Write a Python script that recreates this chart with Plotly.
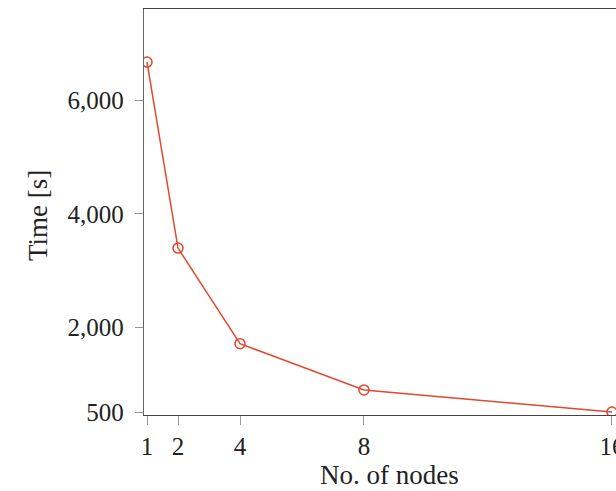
import plotly.graph_objects as go

nodes = [1, 2, 4, 8, 16]
times = [6680, 3395, 1707, 890, 500]
y_tickvals = [500, 2000, 4000, 6000]
y_ticktext = ["500", "2,000", "4,000", "6,000"]
x_tickvals = [1, 2, 4, 8, 16]

FONT = "Liberation Serif"
TICK = 25
TITLE = 27
fig = go.Figure()
fig.add_trace(go.Scatter(
    x=nodes, y=times, mode="lines+markers",
    line=dict(color="#E4472F", width=1.5),
    marker=dict(symbol="circle-open", size=10, color="#E4472F", line=dict(width=1.5)),
    cliponaxis=True, showlegend=False,
))
fig.update_layout(
    width=616, height=491,
    margin=dict(l=144, r=0, t=9, b=76, autoexpand=False),
    paper_bgcolor="white", plot_bgcolor="white",
    font=dict(family=FONT, size=TICK, color="#222"),
    xaxis=dict(range=[0.903, 16.13], tickvals=x_tickvals, ticktext=[str(v) for v in x_tickvals],
               automargin=False,
               showgrid=False, zeroline=False, showline=True, linecolor="#444", linewidth=1.3,
               mirror=True, ticks="outside", ticklen=9, tickcolor="#999", tickwidth=1.3,
               ticklabeloverflow="allow", ticklabelstandoff=0,
               tickfont=dict(family=FONT, size=TICK, color="#222")),
    yaxis=dict(range=[447, 7618], tickvals=y_tickvals, ticktext=y_ticktext,
               automargin=False,
               showgrid=False, zeroline=False, showline=True, linecolor="#666", linewidth=1.3,
               ticks="outside", ticklen=8, tickcolor="#999", tickwidth=1.3,
               ticklabelstandoff=6,
               tickfont=dict(family=FONT, size=TICK, color="#222")),
    annotations=[
        dict(text="No. of nodes", xref="paper", yref="paper", x=(389 - 144) / 472, y=-(491 - 415) / 406,
             showarrow=False, xanchor="center", yanchor="bottom", borderpad=0,
             font=dict(family=FONT, size=TITLE, color="#222")),
        dict(text="Time [s]", xref="paper", yref="paper", x=-(144 - 38) / 472, y=(415 - 216) / 406,
             showarrow=False, xanchor="center", yanchor="middle", textangle=-90,
             font=dict(family=FONT, size=TITLE, color="#222")),
    ],
)
fig.write_html("out.html")
